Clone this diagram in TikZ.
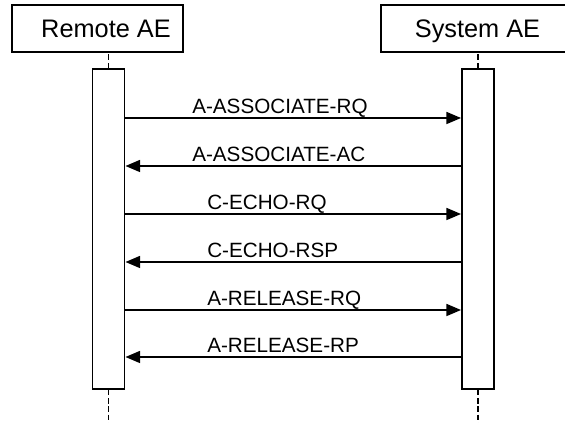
\documentclass[tikz,border=0pt]{standalone}
\usepackage{fontspec}
\setmainfont{Liberation Sans}
\usetikzlibrary{arrows.meta}
\begin{document}
\begin{tikzpicture}[x=0.75pt,y=-0.75pt,
  head/.style={draw,line width=1.4pt,inner sep=0pt,minimum width=#1,minimum height=35.25pt,text height=15.8pt,text depth=3pt,font=\fontsize{19}{22}\selectfont},
  act/.style={draw,line width=1.4pt,inner sep=0pt,fill=white,minimum width=24pt,minimum height=240pt},
  life/.style={line width=1.4pt,dash pattern=on 4pt off 2.2pt},
  msg/.style={line width=1.2pt,-{Triangle[length=11pt,width=9pt]}},
  lbl/.style={anchor=base west,inner sep=0pt,font=\fontsize{15.5}{18}\selectfont}]
\useasboundingbox (0,0) rectangle (565,423);
\node[head=128.25pt] (rh) at (97.5,28.5) {\hspace*{12.75pt}Remote AE};
\node[head=144.75pt] (sh) at (477.5,28.5) {System AE};
\node[act] (ra) at (108.5,229) {};
\node[act] (sa) at (478,229) {};
\coordinate (rb) at (108.5,423);
\coordinate (sb) at (478,423);
\draw[life] (ra.north) -- (ra.north |- rh.south);
\draw[life] (sa.north) -- (sa.north |- sh.south);
\draw[life] (ra.south) -- (rb);
\draw[life] (sa.south) -- (sb);
% message anchors
\foreach \i/\y in {1/118,2/166,3/214,4/262,5/310,6/357}{
  \coordinate (l\i) at (ra.east |- 0,\y);
  \coordinate (r\i) at (sa.west |- 0,\y);
}
\draw[msg] (l1) -- (r1);
\draw[msg] (r2) -- (l2);
\draw[msg] (l3) -- (r3);
\draw[msg] (r4) -- (l4);
\draw[msg] (l5) -- (r5);
\draw[msg] (r6) -- (l6);
\node[lbl] (t1) at (192,114) {A-ASSOCIATE-RQ};
\node[lbl] (t2) at (192,162) {A-ASSOCIATE-AC};
\node[lbl] (t3) at (207,210) {C-ECHO-RQ};
\node[lbl] (t4) at (207,258) {C-ECHO-RSP};
\node[lbl] (t5) at (207,306) {A-RELEASE-RQ};
\node[lbl] (t6) at (207,353) {A-RELEASE-RP};
\end{tikzpicture}
\end{document}
